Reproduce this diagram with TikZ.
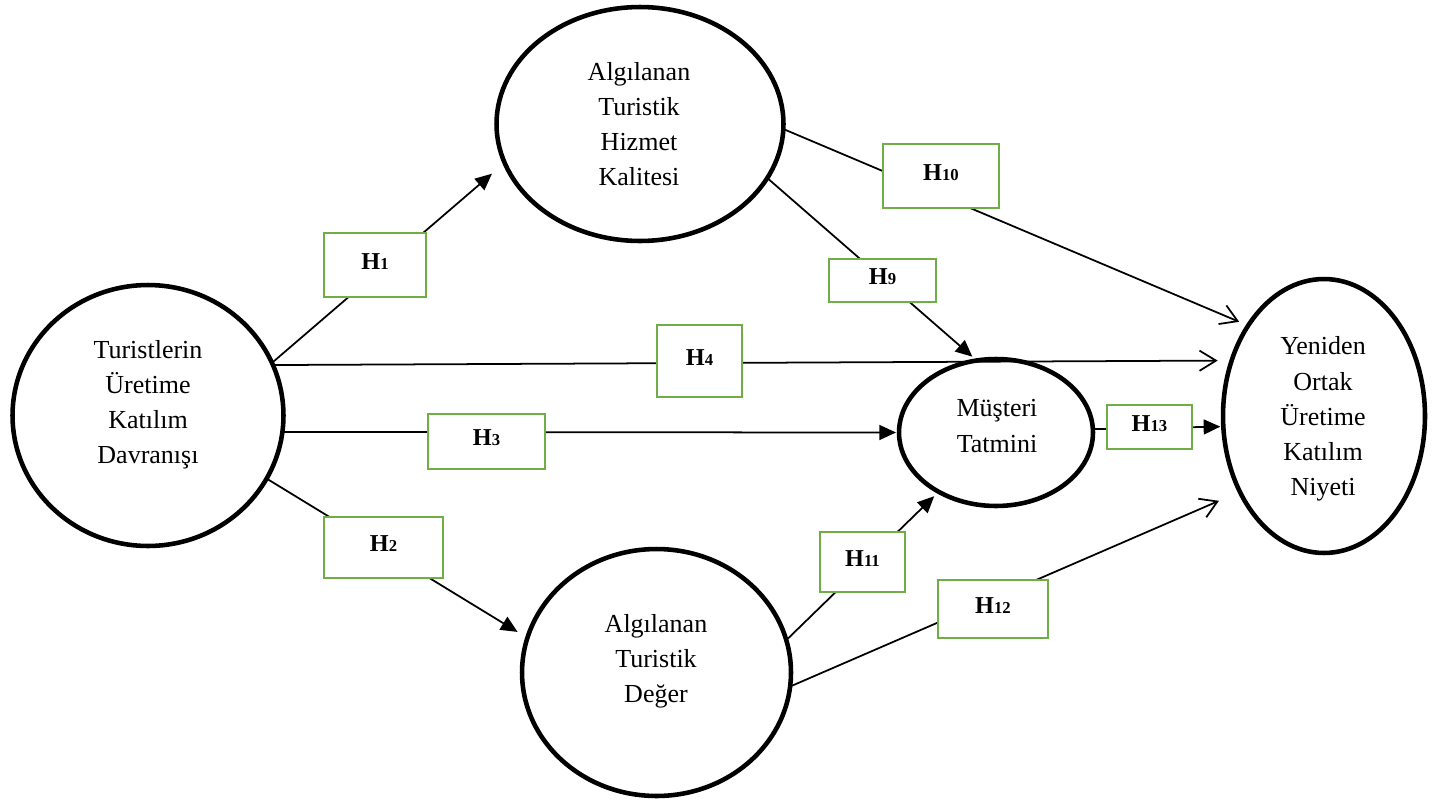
\documentclass[tikz,border=0pt]{standalone}
\usepackage{fontspec}
\setmainfont{Liberation Serif}
\usetikzlibrary{arrows.meta,shapes.geometric}
\definecolor{hgreen}{HTML}{70AD47}
% hypothesis label: bold H with a smaller index
\newcommand{\hlab}[1]{H{\fontsize{9.5pt}{9.5pt}\selectfont #1}}
\begin{document}
\begin{tikzpicture}[x=0.02cm,y=-0.02cm,
  construct/.style={draw,ellipse,line width=2.6pt,inner sep=0pt,outer sep=0pt},
  ctext/.style={align=center,inner sep=0pt,font=\fontsize{14.8pt}{20pt}\selectfont},
  hbox/.style={draw=hgreen,line width=1.5pt,fill=white,inner sep=0pt,text depth=4pt,
               font=\fontsize{13.8pt}{15pt}\selectfont\bfseries},
  link/.style={line width=1pt},
  solid tip/.style={link,-{Triangle[length=9.5pt,width=8.5pt]}},
  open tip/.style={link,-{Straight Barb[length=9.4pt,width=11.5pt]}},
]
\useasboundingbox (0,0) rectangle (1437,805);

% latent constructs
\node[construct,minimum width=5.42cm,minimum height=5.22cm] (L) at (148,415.5) {};
\node[construct,minimum width=5.74cm,minimum height=4.68cm] (T) at (640,124) {};
\node[construct,minimum width=5.38cm,minimum height=4.94cm] (B) at (656.5,672.5) {};
\node[construct,minimum width=3.88cm,minimum height=2.94cm] (M) at (996,432.5) {};
\node[construct,minimum width=4.04cm,minimum height=5.48cm] (R) at (1324,416) {};

\node[ctext] (Ltxt) at (148,405) {Turistlerin\\Üretime\\Katılım\\Davranışı};
\node[ctext] (Ttxt) at (639,124) {Algılanan\\Turistik\\Hizmet\\Kalitesi};
\node[ctext] (Btxt) at (656,661) {Algılanan\\Turistik\\Değer};
\node[ctext] (Mtxt) at (997,426) {Müşteri\\Tatmini};
\node[ctext] (Rtxt) at (1323,419) {Yeniden\\Ortak\\Üretime\\Katılım\\Niyeti};

% hypothesised paths
\draw[solid tip,shorten >=0.334cm] (L.23) -- (T.196.7);
\draw[open tip,shorten >=0.28cm] (L.22) -- (R.149.8);
\draw[solid tip,shorten >=0.06cm] (L.-7.2) -- (M.180);
\draw[solid tip,shorten >=0.23cm] (L.-28.8) -- (B.165);
\draw[open tip,shorten >=0.194cm] (T.-2.4) -- (R.130.2);
\draw[solid tip,shorten >=0.116cm] (T.-23.5) -- (M.105.5);
\draw[solid tip,shorten >=0.06cm] (M.2.7) -- (R.186.8);
\draw[solid tip,shorten >=0.126cm] (B.14.2) -- (M.226.6);
\draw[open tip,shorten >=0.456cm] (B.-6.7) -- (R.222.4);

% hypothesis labels on the paths
\node[hbox,minimum width=2.04cm,minimum height=1.28cm] (H1) at (375,265) {\hlab{1}};
\node[hbox,minimum width=2.38cm,minimum height=1.22cm] (H2) at (383.5,547.5) {\hlab{2}};
\node[hbox,minimum width=2.34cm,minimum height=1.10cm] (H3) at (486.5,441.5) {\hlab{3}};
\node[hbox,minimum width=1.70cm,minimum height=1.44cm] (H4) at (699.5,361) {\hlab{4}};
\node[hbox,minimum width=2.14cm,minimum height=0.86cm] (H9) at (882.5,280.5) {\hlab{9}};
\node[hbox,minimum width=2.32cm,minimum height=1.28cm] (H10) at (941,176) {\hlab{10}};
\node[hbox,minimum width=1.70cm,minimum height=1.20cm] (H11) at (862.5,562) {\hlab{11}};
\node[hbox,minimum width=2.20cm,minimum height=1.16cm] (H12) at (993,609) {\hlab{12}};
\node[hbox,minimum width=1.70cm,minimum height=0.88cm] (H13) at (1149.5,427) {\hlab{13}};
\end{tikzpicture}
\end{document}
